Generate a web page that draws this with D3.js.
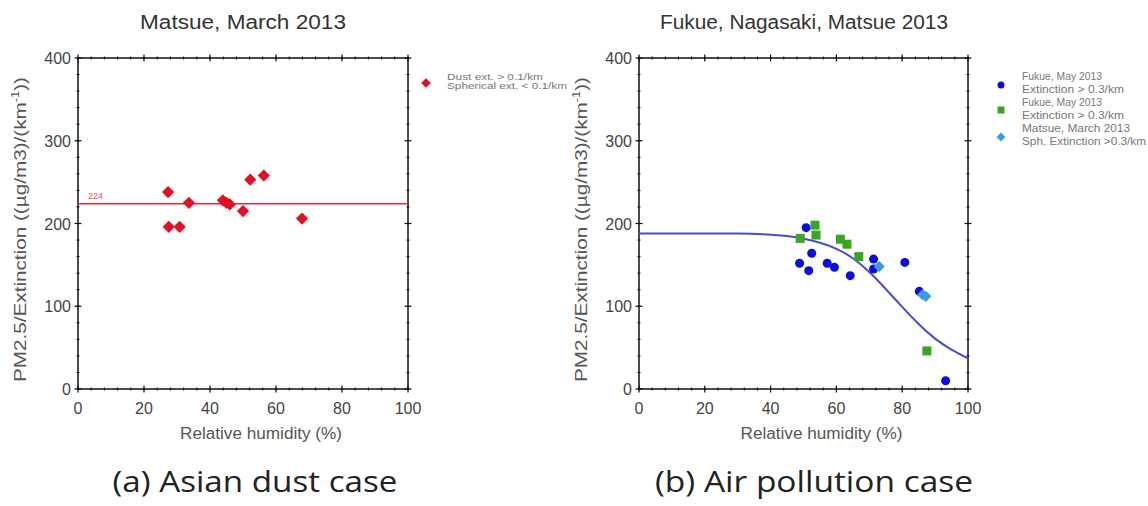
<!DOCTYPE html>
<meta charset="utf-8">
<style>
body { margin: 0; background: #fff; }
svg { display: block; }
.ax text { font: 16px "Liberation Sans", Arial, sans-serif; fill: #444; }
.ax line, .ax path { stroke: #111; }
.ttl { font: 20px "Liberation Sans", Arial, sans-serif; fill: #333; }
.lab { font: 16px "Liberation Sans", Arial, sans-serif; fill: #555; }
.leg { font: 9px "Liberation Sans", Arial, sans-serif; fill: #777; }
.cap { font: 29px "Open Sans", sans-serif; fill: #222; }
</style>
<svg width="1148" height="506"></svg>
<script src="https://d3js.org/d3.v7.min.js"></script>
<script>

// (a) Matsue, March 2013 - dust case
var dustRH    = [27.3, 27.5, 30.8, 33.6, 43.9, 45.0, 46.0, 50.0, 52.2, 56.3, 67.9];
var dustRatio = [238, 196, 196, 225, 228, 225, 223, 215, 253, 258, 206];
var dustMean  = 224;

// (b) air pollution case
var fukueRH    = [50.8, 48.8, 51.6, 52.5, 57.2, 59.4, 64.2, 71.3, 71.3, 80.8, 85.2, 93.2];
var fukueRatio = [195, 152, 143, 164, 152, 147, 137, 157, 145, 153, 118, 10];
var fukue2RH    = [49.0, 53.5, 53.8, 61.2, 63.2, 66.8, 87.5];
var fukue2Ratio = [182, 198, 186, 181, 175, 160, 46];
var matsueRH    = [73.0, 86.2, 87.2];
var matsueRatio = [148, 114, 112];

// fitted curve
var curveRH    = [0, 10, 20, 30, 40, 45, 50, 55, 60, 65, 70, 75, 80, 85, 90, 95, 100];
var curveRatio = [188, 188, 188, 188, 187, 185, 182, 177, 170, 159, 142, 121, 99, 78, 60, 47, 37];

var xTicks = [0, 20, 40, 60, 80, 100];
var yTicks = [0, 100, 200, 300, 400];

var svg = d3.select("svg");

function panel(left, right, top, bottom) {
  var x = d3.scaleLinear().domain([0, 100]).range([left, right]);
  var y = d3.scaleLinear().domain([0, 400]).range([bottom, top]);
  var g = svg.append("g").attr("class", "ax");

  // frame
  g.append("rect")
      .attr("x", left).attr("y", top)
      .attr("width", right - left).attr("height", bottom - top)
      .attr("fill", "none").attr("stroke", "#111").attr("stroke-width", 1.5);

  var minorX = d3.range(0, 101, 4), minorY = d3.range(0, 401, 20);

  // ticks crossing each side of the frame
  function ticks(vals, len, w) {
    vals.forEach(function(v) {
      [bottom, top].forEach(function(yy) {
        g.append("line").attr("x1", x(v)).attr("x2", x(v))
          .attr("y1", yy - len).attr("y2", yy + len).attr("stroke-width", w);
      });
    });
  }
  function yticks(vals, len, w) {
    vals.forEach(function(v) {
      [left, right].forEach(function(xx) {
        g.append("line").attr("y1", y(v)).attr("y2", y(v))
          .attr("x1", xx - len).attr("x2", xx + len).attr("stroke-width", w);
      });
    });
  }
  ticks(minorX, 1.5, 1);
  yticks(minorY, 1.5, 1);
  ticks(xTicks, 3.5, 1.2);
  yticks(yTicks, 3.5, 1.2);

  g.selectAll(".xt").data(xTicks).enter().append("text")
      .attr("x", function(d) { return x(d); })
      .attr("y", bottom + 25)
      .attr("text-anchor", "middle")
      .text(function(d) { return d; });

  g.selectAll(".yt").data(yTicks).enter().append("text")
      .attr("x", left - 7)
      .attr("y", function(d) { return y(d) + 6; })
      .attr("text-anchor", "end")
      .text(function(d) { return d; });

  svg.append("text").attr("class", "lab")
      .attr("x", (left + right) / 2 + 18).attr("y", bottom + 50)
      .attr("text-anchor", "middle")
      .attr("textLength", 162).attr("lengthAdjust", "spacingAndGlyphs")
      .text("Relative humidity (%)");

  var yl = svg.append("text").attr("class", "lab")
      .attr("transform", "translate(" + (left - 52) + "," + ((top + bottom) / 2 + 6) + ") rotate(-90)")
      .attr("text-anchor", "middle")
      .attr("textLength", 305).attr("lengthAdjust", "spacingAndGlyphs");
  yl.append("tspan").text("PM2.5/Extinction ((\u00b5g/m3)/(km");
  yl.append("tspan").attr("font-size", 10).attr("dy", -7).text("-1");
  yl.append("tspan").attr("dy", 7).text("))");

  return { x: x, y: y };
}

// ---------- (a) ----------
var a = panel(78, 408, 58, 389);

svg.append("text").attr("class", "ttl")
    .attr("x", 243).attr("y", 29).attr("text-anchor", "middle")
    .attr("textLength", 206).attr("lengthAdjust", "spacingAndGlyphs")
    .text("Matsue, March 2013");

svg.append("line")
    .attr("x1", a.x(0)).attr("x2", a.x(100))
    .attr("y1", a.y(dustMean)).attr("y2", a.y(dustMean))
    .attr("stroke", "#e8283a").attr("stroke-width", 1.5);

svg.append("text")
    .attr("x", a.x(3)).attr("y", a.y(dustMean) - 5)
    .attr("font-family", "Liberation Sans, Arial, sans-serif")
    .attr("font-size", 9).attr("fill", "#e8505a")
    .text(dustMean);

svg.selectAll(".dust").data(dustRH).enter().append("path")
    .attr("d", d3.symbol().type(d3.symbolDiamond2).size(95))
    .attr("transform", function(d, i) { return "translate(" + a.x(d) + "," + a.y(dustRatio[i]) + ")"; })
    .attr("fill", "#e30f23");

svg.append("path")
    .attr("d", d3.symbol().type(d3.symbolDiamond2).size(60))
    .attr("transform", "translate(426,83)")
    .attr("fill", "#e30f23");
svg.append("text").attr("class", "leg").attr("x", 447).attr("y", 80)
    .attr("textLength", 96).attr("lengthAdjust", "spacingAndGlyphs")
    .text("Dust ext. > 0.1/km");
svg.append("text").attr("class", "leg").attr("x", 447).attr("y", 89)
    .attr("textLength", 120).attr("lengthAdjust", "spacingAndGlyphs")
    .text("Spherical ext. < 0.1/km");

svg.append("text").attr("class", "cap")
    .attr("x", 255).attr("y", 492).attr("text-anchor", "middle")
    .attr("textLength", 285).attr("lengthAdjust", "spacingAndGlyphs")
    .text("(a) Asian dust case");

// ---------- (b) ----------
var b = panel(639, 968, 58, 389);

svg.append("text").attr("class", "ttl")
    .attr("x", 804).attr("y", 29).attr("text-anchor", "middle")
    .attr("textLength", 288).attr("lengthAdjust", "spacingAndGlyphs")
    .text("Fukue, Nagasaki, Matsue 2013");

var line = d3.line()
    .x(function(d) { return b.x(d); })
    .y(function(d, i) { return b.y(curveRatio[i]); })
    .curve(d3.curveBasis);

svg.append("path")
    .attr("d", line(curveRH))
    .attr("fill", "none").attr("stroke", "#4a4ad6").attr("stroke-width", 2);

svg.selectAll(".fk").data(fukueRH).enter().append("circle")
    .attr("cx", function(d) { return b.x(d); })
    .attr("cy", function(d, i) { return b.y(fukueRatio[i]); })
    .attr("r", 4.5).attr("fill", "#0c0ce0");

svg.selectAll(".fk2").data(fukue2RH).enter().append("rect")
    .attr("x", function(d) { return b.x(d) - 4.5; })
    .attr("y", function(d, i) { return b.y(fukue2Ratio[i]) - 4.5; })
    .attr("width", 9).attr("height", 9).attr("fill", "#3aa520");

svg.selectAll(".mt").data(matsueRH).enter().append("path")
    .attr("d", d3.symbol().type(d3.symbolDiamond2).size(80))
    .attr("transform", function(d, i) { return "translate(" + b.x(d) + "," + b.y(matsueRatio[i]) + ")"; })
    .attr("fill", "#3b9be0");

// legend (b)
svg.append("circle").attr("cx", 1001).attr("cy", 85).attr("r", 3.5).attr("fill", "#0c0ce0");
svg.append("rect").attr("x", 997.5).attr("y", 106.5).attr("width", 7).attr("height", 7).attr("fill", "#3aa520");
svg.append("path").attr("d", d3.symbol().type(d3.symbolDiamond2).size(50))
    .attr("transform", "translate(1001,137)").attr("fill", "#3b9be0");

var legB = ["Fukue, May 2013", "Extinction > 0.3/km",
            "Fukue, May 2013", "Extinction > 0.3/km",
            "Matsue, March 2013", "Sph. Extinction >0.3/km"];
var legBy = [80, 93, 106, 119, 132, 145];
var legBw = [80, 102, 80, 102, 108, 124];
svg.selectAll(".lb").data(legB).enter().append("text").attr("class", "leg")
    .attr("font-size", 10)
    .attr("x", 1022).attr("y", function(d, i) { return legBy[i]; })
    .attr("textLength", function(d, i) { return legBw[i]; })
    .attr("lengthAdjust", "spacingAndGlyphs")
    .style("font-size", "10px")
    .text(function(d) { return d; });

svg.append("text").attr("class", "cap")
    .attr("x", 814).attr("y", 492).attr("text-anchor", "middle")
    .attr("textLength", 318).attr("lengthAdjust", "spacingAndGlyphs")
    .text("(b) Air pollution case");

</script>
